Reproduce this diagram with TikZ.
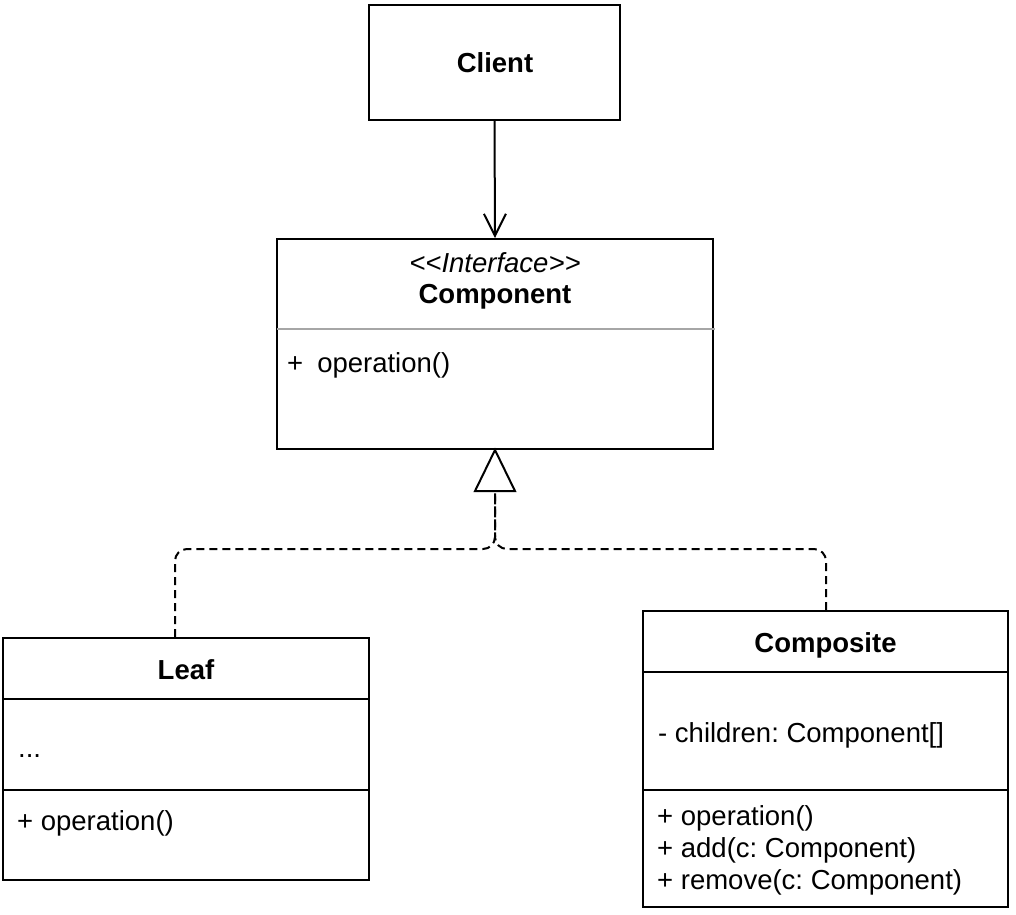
\documentclass[tikz,border=0pt]{standalone}
\usepackage{fontspec}
\setmainfont{Liberation Sans}
\usetikzlibrary{arrows.meta}
\frenchspacing
\begin{document}
\begin{tikzpicture}[x=1pt,y=-1pt,
  box/.style={draw=black,line width=2pt,fill=white,rectangle,inner sep=0pt},
  txt/.style={inner sep=0pt,font=\fontsize{27.5}{32}\selectfont},
  btxt/.style={txt,font=\fontsize{27.5}{32}\selectfont\bfseries},
  sep/.style={line width=2pt},
  realize/.style={dashed,dash pattern=on 8pt off 5pt,line width=2pt,rounded corners=12pt},
]
\useasboundingbox (0,0) rectangle (1016,914);
% Client
\node[box,minimum width=251pt,minimum height=115pt] (client) at (494.5,62.5) {};
\node[btxt,anchor=base] (clientT) at (495,72) {Client};
% Component
\node[box,minimum width=436pt,minimum height=210pt] (comp) at (495,344) {};
\draw[line width=2pt,color=black!35] (277,329) coordinate (csl) -- (715,329) coordinate (csr);
\node[txt,anchor=base,font=\fontsize{27.5}{32}\selectfont\itshape] (stereo) at (495,272) {<{}<Interface>{}>};
\node[btxt,anchor=base] (compT) at (495,303) {Component};
\node[txt,anchor=base west] (compOp) at (287,372) {+\hspace{14pt}operation()};
% Leaf
\node[box,minimum width=366pt,minimum height=242pt] (leaf) at (186,759) {};
\draw[sep] (3,699) coordinate (l1a) -- (369,699) coordinate (l1b);
\draw[sep] (3,790) coordinate (l2a) -- (369,790) coordinate (l2b);
\node[btxt,anchor=base] (leafT) at (186,679) {Leaf};
\node[txt,anchor=base west] (leafA) at (18,757) {...};
\node[txt,anchor=base west] (leafOp) at (17,830) {+ operation()};
% Composite
\node[box,minimum width=365pt,minimum height=296pt] (compo) at (825.5,759) {};
\draw[sep] (643,672) coordinate (c1a) -- (1008,672) coordinate (c1b);
\draw[sep] (643,790) coordinate (c2a) -- (1008,790) coordinate (c2b);
\node[btxt,anchor=base] (compoT) at (825.5,652) {Composite};
\node[txt,anchor=base west] (compoA) at (658,742) {- children: Component[]};
\node[txt,anchor=base west] (compoO1) at (657,825) {+ operation()};
\node[txt,anchor=base west] (compoO2) at (657,857) {+ add(c: Component)};
\node[txt,anchor=base west] (compoO3) at (657,889) {+ remove(c: Component)};
% association
\draw[line width=2pt,-{Straight Barb[length=22pt,width=22pt,line width=2pt]}] (client.south) -- (comp.north);
% realization
\coordinate (base) at (495,491);
\coordinate (jl) at (175,549);
\coordinate (jr) at (826,549);
\draw[realize] (leaf.north -| jl) -- (jl) -- (495,549) -- (base);
\draw[realize] (compo.north -| jr) -- (jr) -- (495,549) -- (base);
\draw[line width=2pt,fill=white,line join=miter] (comp.south) -- (515,491) -- (475,491) -- cycle;
\end{tikzpicture}
\end{document}
